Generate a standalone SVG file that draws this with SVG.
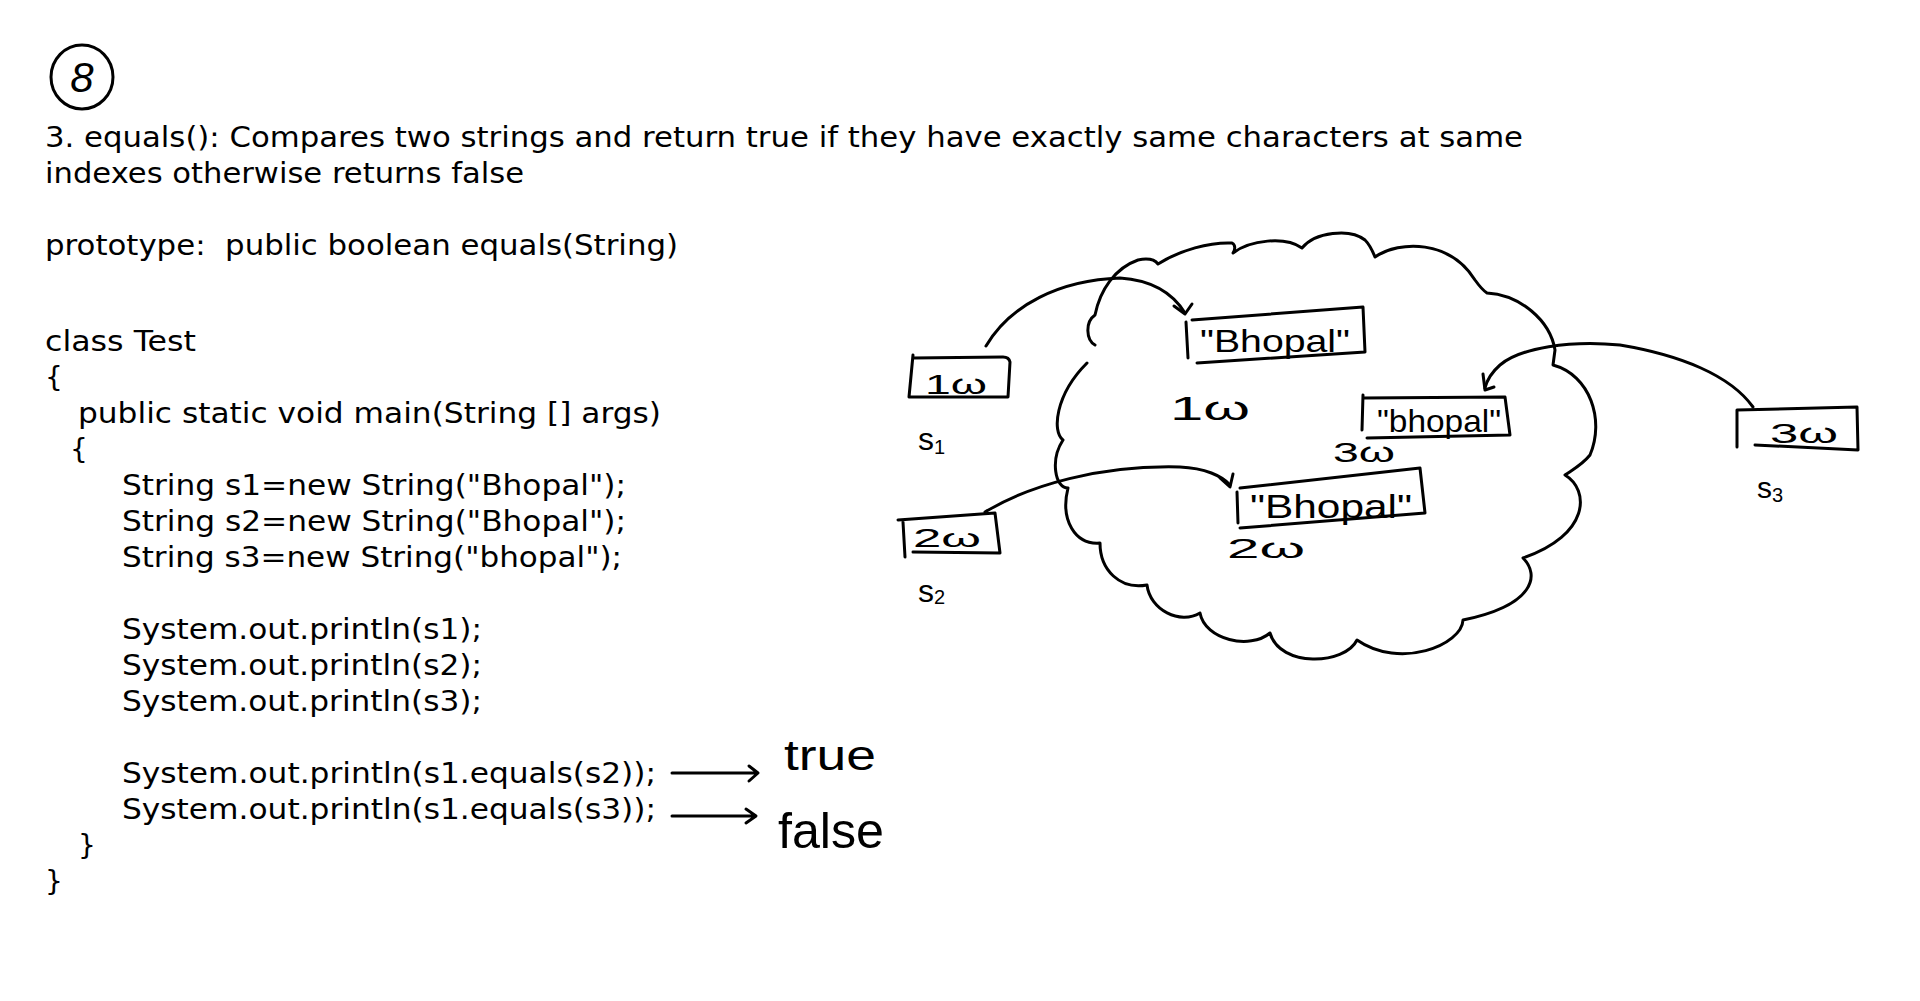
<svg xmlns="http://www.w3.org/2000/svg" width="1920" height="1001" viewBox="0 0 1920 1001">
<style>
.code{font-family:"DejaVu Sans",sans-serif;font-size:28px;fill:#000;white-space:pre}
.hand{font-family:"Liberation Sans",sans-serif;fill:#000}
.ink{fill:none;stroke:#000;stroke-width:3;stroke-linecap:round;stroke-linejoin:round}
</style>
<rect width="1920" height="1001" fill="#fff"/>

<g id="badge">
<ellipse class="ink" cx="82" cy="77" rx="31" ry="32"/>
<text class="hand" x="82" y="92" font-size="42" font-style="italic" text-anchor="middle">8</text>
</g>

<g id="description">
<text class="code" x="45" y="147" textLength="1478" lengthAdjust="spacingAndGlyphs">3. equals(): Compares two strings and return true if they have exactly same characters at same</text>
<text class="code" x="45" y="183" textLength="479" lengthAdjust="spacingAndGlyphs">indexes otherwise returns false</text>
<text class="code" x="45" y="255" textLength="633" lengthAdjust="spacingAndGlyphs" xml:space="preserve">prototype:  public boolean equals(String)</text>
</g>

<g id="code">
<text class="code" x="45" y="351" textLength="151" lengthAdjust="spacingAndGlyphs">class Test</text>
<text class="code" x="45" y="387">{</text>
<text class="code" x="78" y="423" textLength="583" lengthAdjust="spacingAndGlyphs">public static void main(String [] args)</text>
<text class="code" x="70" y="459">{</text>
<text class="code" x="122" y="495" textLength="504" lengthAdjust="spacingAndGlyphs">String s1=new String("Bhopal");</text>
<text class="code" x="122" y="531" textLength="504" lengthAdjust="spacingAndGlyphs">String s2=new String("Bhopal");</text>
<text class="code" x="122" y="567" textLength="500" lengthAdjust="spacingAndGlyphs">String s3=new String("bhopal");</text>
<text class="code" x="122" y="639" textLength="360" lengthAdjust="spacingAndGlyphs">System.out.println(s1);</text>
<text class="code" x="122" y="675" textLength="360" lengthAdjust="spacingAndGlyphs">System.out.println(s2);</text>
<text class="code" x="122" y="711" textLength="360" lengthAdjust="spacingAndGlyphs">System.out.println(s3);</text>
<text class="code" x="122" y="783" textLength="534" lengthAdjust="spacingAndGlyphs">System.out.println(s1.equals(s2));</text>
<text class="code" x="122" y="819" textLength="534" lengthAdjust="spacingAndGlyphs">System.out.println(s1.equals(s3));</text>
<text class="code" x="78" y="855">}</text>
<text class="code" x="45" y="891">}</text>
</g>

<g id="result-true">
<text class="hand" x="784" y="770" font-size="42" textLength="92" lengthAdjust="spacingAndGlyphs">true</text>
</g>
<g id="result-false">
<text class="hand" x="778" y="848" font-size="50" textLength="106" lengthAdjust="spacingAndGlyphs">false</text>
</g>

<g id="heap-cloud">
<path class="ink" d="M1095,345 C1086,340 1085,322 1095,315 C1100,290 1115,268 1138,260 C1148,258 1155,260 1158,264 C1180,250 1210,242 1232,243 C1236,245 1235,250 1233,253 C1250,240 1285,236 1302,248 C1315,232 1350,228 1365,240 C1370,245 1373,252 1375,257 C1400,240 1450,240 1475,280 C1480,287 1484,291 1487,293 C1520,295 1550,320 1555,350 L1553,365 C1590,375 1605,420 1590,455 C1582,465 1572,470 1565,475 C1590,490 1590,535 1523,558 C1540,575 1535,605 1463,620 C1462,645 1400,670 1357,640 C1345,665 1280,668 1270,633 C1250,650 1205,640 1200,613 C1180,625 1150,610 1147,585 C1120,590 1100,570 1100,543 C1075,545 1060,520 1068,488 C1055,488 1050,460 1063,440 C1052,432 1055,395 1087,363"/>
</g>

<g id="ref-s1">
<path class="ink" d="M913,355 L909,397 L1008,397 L1010,362 Q1009,357 1003,357 L913,358"/>
<text class="hand" x="925" y="394" font-size="28" textLength="62" lengthAdjust="spacingAndGlyphs">1ω</text>
<text class="hand" x="918" y="450" font-size="32">s<tspan font-size="20" dy="4">1</tspan></text>
</g>

<g id="ref-s2">
<path class="ink" d="M898,520 L995,513 L1000,553 L913,552 M903,522 L905,557"/>
<text class="hand" x="913" y="547" font-size="26" textLength="68" lengthAdjust="spacingAndGlyphs">2ω</text>
<text class="hand" x="918" y="602" font-size="32">s<tspan font-size="20" dy="2">2</tspan></text>
</g>

<g id="ref-s3">
<path class="ink" d="M1737,447 L1737,410 L1857,407 L1858,450 L1755,445"/>
<text class="hand" x="1770" y="443" font-size="28" textLength="68" lengthAdjust="spacingAndGlyphs">3ω</text>
<text class="hand" x="1757" y="498" font-size="30">s<tspan font-size="20" dy="4">3</tspan></text>
</g>

<g id="obj-1000">
<path class="ink" d="M1186,322 L1188,358 M1192,320 L1363,307 L1365,352 L1197,363"/>
<text class="hand" x="1200" y="352" font-size="32" textLength="150" lengthAdjust="spacingAndGlyphs">"Bhopal"</text>
<text class="hand" x="1170" y="420" font-size="34" textLength="80" lengthAdjust="spacingAndGlyphs">1ω</text>
</g>

<g id="obj-2000">
<path class="ink" d="M1237,492 L1238,523 M1240,488 L1420,468 L1425,513 L1240,528"/>
<text class="hand" x="1250" y="518" font-size="34" textLength="162" lengthAdjust="spacingAndGlyphs">"Bhopal"</text>
<text class="hand" x="1227" y="558" font-size="28" textLength="78" lengthAdjust="spacingAndGlyphs">2ω</text>
</g>

<g id="obj-3000">
<path class="ink" d="M1363,395 L1362,430 M1363,398 L1505,397 L1510,435 L1367,438"/>
<text class="hand" x="1377" y="432" font-size="32" textLength="124" lengthAdjust="spacingAndGlyphs">"bhopal"</text>
<text class="hand" x="1333" y="462" font-size="28" textLength="62" lengthAdjust="spacingAndGlyphs">3ω</text>
</g>

<g id="connectors">
<path class="ink" d="M986,346 C1010,305 1060,280 1120,278 C1150,280 1172,292 1185,313"/>
<path class="ink" d="M1174,306 L1185,314 L1192,304"/>
<path class="ink" d="M985,512 C1030,485 1100,465 1180,467 C1205,468 1222,476 1230,485"/>
<path class="ink" d="M1220,478 L1230,487 L1233,474"/>
<path class="ink" d="M1753,407 C1730,375 1680,355 1620,345 C1570,340 1520,348 1500,365 C1492,372 1487,380 1485,388"/>
<path class="ink" d="M1483,374 L1485,390 L1494,387"/>
<path class="ink" d="M672,773 L757,773 M749,766 L758,773 L749,781"/>
<path class="ink" d="M672,816 L755,816 M746,809 L756,816 L746,823"/>
</g>
</svg>
